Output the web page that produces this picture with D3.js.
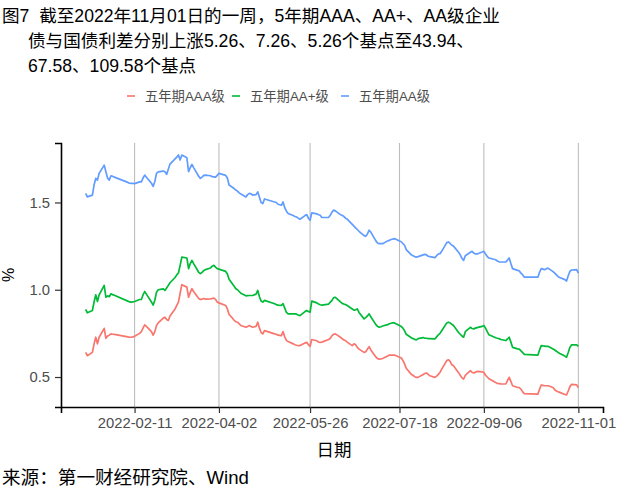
<!DOCTYPE html>
<html><head><meta charset="utf-8">
<script src="https://cdn.jsdelivr.net/npm/d3@7"></script>
<style>
html,body{margin:0;padding:0;background:#fff;}
svg{display:block;font-family:"Liberation Sans","Noto Sans CJK SC",sans-serif;}
text{white-space:pre;}
</style></head>
<body>
<script>
const titleLines = ["图7  截至2022年11月01日的一周，5年期AAA、AA+、AA级企业",
  "债与国债利差分别上涨5.26、7.26、5.26个基点至43.94、",
  "67.58、109.58个基点"];
const seriesNames = ["五年期AAA级", "五年期AA+级", "五年期AA级"];
const seriesColors = ["#F8766D", "#00BA38", "#619CFF"];
const tickDates = ["2022-02-11","2022-04-02","2022-05-26","2022-07-18","2022-09-06","2022-11-01"];
const yTicks = [0.5, 1.0, 1.5];
const sourceText = "来源：第一财经研究院、Wind";

const dates = ["2022-01-13","2022-01-14","2022-01-17","2022-01-18","2022-01-19","2022-01-20","2022-01-21","2022-01-24","2022-01-25","2022-01-26","2022-01-27","2022-01-28","2022-01-29","2022-01-30",
"2022-02-07","2022-02-08","2022-02-09","2022-02-10","2022-02-11","2022-02-14","2022-02-15","2022-02-16","2022-02-17","2022-02-18","2022-02-21","2022-02-22","2022-02-23","2022-02-24","2022-02-25","2022-02-28",
"2022-03-01","2022-03-02","2022-03-03","2022-03-04","2022-03-07","2022-03-08","2022-03-09","2022-03-10","2022-03-11","2022-03-14","2022-03-15","2022-03-16","2022-03-17","2022-03-18","2022-03-21","2022-03-22","2022-03-23","2022-03-24","2022-03-25","2022-03-28","2022-03-29","2022-03-30","2022-03-31",
"2022-04-01","2022-04-02","2022-04-06","2022-04-07","2022-04-08","2022-04-11","2022-04-12","2022-04-13","2022-04-14","2022-04-15","2022-04-18","2022-04-19","2022-04-20","2022-04-21","2022-04-22","2022-04-24","2022-04-25","2022-04-26","2022-04-27","2022-04-28","2022-04-29",
"2022-05-05","2022-05-06","2022-05-07","2022-05-09","2022-05-10","2022-05-11","2022-05-12","2022-05-13","2022-05-16","2022-05-17","2022-05-18","2022-05-19","2022-05-20","2022-05-23","2022-05-24","2022-05-25","2022-05-26","2022-05-27","2022-05-30","2022-05-31",
"2022-06-01","2022-06-02","2022-06-06","2022-06-07","2022-06-08","2022-06-09","2022-06-10","2022-06-13","2022-06-14","2022-06-15","2022-06-16","2022-06-17","2022-06-20","2022-06-21","2022-06-22","2022-06-23","2022-06-24","2022-06-27","2022-06-28","2022-06-29","2022-06-30",
"2022-07-01","2022-07-04","2022-07-05","2022-07-06","2022-07-07","2022-07-08","2022-07-11","2022-07-12","2022-07-13","2022-07-14","2022-07-15","2022-07-18","2022-07-19","2022-07-20","2022-07-21","2022-07-22","2022-07-25","2022-07-26","2022-07-27","2022-07-28","2022-07-29",
"2022-08-01","2022-08-02","2022-08-03","2022-08-04","2022-08-05","2022-08-08","2022-08-09","2022-08-10","2022-08-11","2022-08-12","2022-08-15","2022-08-16","2022-08-17","2022-08-18","2022-08-19","2022-08-22","2022-08-23","2022-08-24","2022-08-25","2022-08-26","2022-08-29","2022-08-30","2022-08-31",
"2022-09-01","2022-09-02","2022-09-05","2022-09-06","2022-09-07","2022-09-08","2022-09-09","2022-09-13","2022-09-14","2022-09-15","2022-09-16","2022-09-19","2022-09-20","2022-09-21","2022-09-22","2022-09-23","2022-09-26","2022-09-27","2022-09-28","2022-09-29","2022-09-30",
"2022-10-08","2022-10-09","2022-10-10","2022-10-11","2022-10-12","2022-10-13","2022-10-14","2022-10-17","2022-10-18","2022-10-19","2022-10-20","2022-10-21","2022-10-24","2022-10-25","2022-10-26","2022-10-27","2022-10-28","2022-10-31","2022-11-01"];

const aa = [1.552,1.532,1.542,1.600,1.638,1.628,1.667,1.714,1.676,1.640,1.628,1.653,1.650,1.645,
1.615,1.610,1.609,1.609,1.608,1.618,1.618,1.640,1.657,1.645,1.610,1.592,1.620,1.667,1.675,1.680,
1.676,1.661,1.690,1.720,1.750,1.760,1.772,1.743,1.772,1.756,1.676,1.700,1.718,1.700,1.650,1.638,1.645,1.655,1.657,1.653,1.648,1.647,1.645,
1.655,1.667,1.655,1.640,1.600,1.580,1.571,1.565,1.555,1.548,1.532,1.545,1.552,1.550,1.542,1.545,1.561,1.530,1.500,1.494,1.520,
1.503,1.500,1.490,1.484,1.503,1.470,1.450,1.437,1.425,1.420,1.417,1.410,1.404,1.425,1.431,1.410,1.398,1.440,1.435,1.430,
1.427,1.414,1.415,1.427,1.445,1.456,1.452,1.430,1.427,1.420,1.410,1.405,1.375,1.365,1.355,1.345,1.335,1.310,1.306,1.320,1.341,
1.330,1.280,1.268,1.264,1.264,1.264,1.280,1.283,1.288,1.290,1.293,1.279,1.275,1.265,1.255,1.230,1.200,1.195,1.190,1.187,1.190,
1.200,1.203,1.200,1.192,1.190,1.184,1.195,1.205,1.207,1.220,1.270,1.274,1.265,1.255,1.250,1.215,1.200,1.180,1.168,1.195,1.215,1.220,1.210,
1.205,1.205,1.216,1.220,1.205,1.190,1.182,1.172,1.165,1.160,1.159,1.159,1.170,1.182,1.150,1.121,1.111,1.108,1.095,1.085,1.072,
1.072,1.100,1.121,1.118,1.115,1.120,1.124,1.104,1.095,1.085,1.075,1.070,1.058,1.050,1.080,1.105,1.113,1.115,1.0958];

const aaPlus = [0.887,0.868,0.881,0.930,0.971,0.933,0.971,1.025,0.957,0.965,0.960,0.977,0.972,0.968,
0.935,0.930,0.929,0.930,0.933,0.944,0.944,0.970,0.990,0.975,0.930,0.912,0.940,0.986,1.000,1.005,
0.996,1.010,1.025,1.040,1.070,1.085,1.096,1.140,1.187,1.182,1.121,1.150,1.168,1.150,1.100,1.092,1.100,1.110,1.115,1.125,1.135,1.140,1.130,
1.121,1.118,1.105,1.090,1.060,1.020,1.006,1.000,0.990,0.980,0.965,0.966,0.967,0.967,0.967,0.975,0.996,0.960,0.935,0.929,0.939,
0.920,0.915,0.912,0.910,0.920,0.895,0.870,0.862,0.862,0.862,0.860,0.855,0.852,0.875,0.881,0.875,0.871,0.935,0.925,0.918,
0.914,0.912,0.918,0.929,0.939,0.955,0.957,0.930,0.922,0.918,0.915,0.910,0.890,0.883,0.885,0.890,0.870,0.833,0.840,0.850,0.862,
0.845,0.800,0.790,0.785,0.788,0.792,0.800,0.805,0.808,0.810,0.810,0.795,0.790,0.780,0.765,0.745,0.725,0.720,0.716,0.713,0.720,
0.726,0.722,0.722,0.720,0.720,0.718,0.730,0.742,0.750,0.765,0.810,0.814,0.810,0.802,0.795,0.755,0.745,0.735,0.728,0.760,0.785,0.778,0.776,
0.780,0.783,0.790,0.795,0.780,0.760,0.742,0.725,0.722,0.720,0.715,0.709,0.718,0.728,0.700,0.670,0.661,0.660,0.650,0.640,0.630,
0.626,0.655,0.680,0.678,0.677,0.676,0.676,0.661,0.655,0.648,0.641,0.635,0.620,0.613,0.640,0.670,0.685,0.684,0.6758];

const aaa = [0.641,0.622,0.641,0.690,0.728,0.690,0.728,0.779,0.722,0.735,0.740,0.747,0.745,0.744,
0.730,0.728,0.728,0.730,0.733,0.750,0.760,0.780,0.799,0.790,0.760,0.740,0.760,0.795,0.810,0.838,
0.843,0.830,0.824,0.850,0.890,0.910,0.929,0.980,1.029,1.015,0.957,0.985,1.006,0.990,0.950,0.944,0.946,0.950,0.946,0.948,0.950,0.952,0.945,
0.929,0.925,0.910,0.890,0.860,0.825,0.817,0.814,0.805,0.795,0.785,0.790,0.795,0.790,0.785,0.790,0.814,0.780,0.755,0.747,0.766,
0.747,0.745,0.740,0.737,0.760,0.730,0.710,0.703,0.690,0.685,0.682,0.680,0.680,0.695,0.699,0.685,0.676,0.715,0.708,0.700,
0.699,0.700,0.715,0.722,0.737,0.745,0.747,0.728,0.720,0.712,0.709,0.700,0.680,0.690,0.685,0.670,0.660,0.641,0.645,0.660,0.674,
0.655,0.615,0.605,0.603,0.604,0.606,0.620,0.626,0.626,0.626,0.626,0.613,0.610,0.595,0.575,0.550,0.515,0.510,0.502,0.498,0.498,
0.515,0.520,0.523,0.515,0.507,0.498,0.505,0.515,0.526,0.545,0.594,0.599,0.590,0.570,0.565,0.525,0.510,0.495,0.488,0.510,0.536,0.527,0.523,
0.528,0.532,0.530,0.526,0.510,0.500,0.490,0.468,0.463,0.462,0.461,0.460,0.480,0.498,0.475,0.450,0.440,0.440,0.430,0.415,0.405,
0.402,0.430,0.454,0.452,0.450,0.450,0.450,0.440,0.427,0.420,0.415,0.412,0.400,0.397,0.420,0.445,0.458,0.455,0.4394];

const W = 640, H = 498;
const parse = d3.timeParse("%Y-%m-%d");
const fmt = d3.timeFormat("%Y-%m-%d");
const dts = dates.map(parse);
const series = [aaa, aaPlus, aa];

const svg = d3.select("body").append("svg").attr("width", W).attr("height", H);

const panel = {left: 61, right: 603, top: 143, bottom: 407};

const xExt = d3.extent(dts);
const xPad = (xExt[1] - xExt[0]) * 0.05;
const x = d3.scaleTime()
  .domain([new Date(+xExt[0] - xPad), new Date(+xExt[1] + xPad)])
  .range([panel.left, panel.right]);

const allV = series.flat();
const yMin = d3.min(allV), yMax = d3.max(allV);
const yPad = (yMax - yMin) * 0.05;
const y = d3.scaleLinear().domain([yMin - yPad, yMax + yPad]).range([panel.bottom, panel.top]);

// Title
const title = svg.append("g").attr("font-size", 17.6).attr("fill", "#000");
titleLines.forEach((t, i) => {
  title.append("text").attr("x", i === 0 ? 2 : 28).attr("y", 22 + i * 25).text(t);
});

// Legend
const legendX = [127, 232, 341];
const leg = svg.append("g");
seriesNames.forEach((n, i) => {
  leg.append("line").attr("x1", legendX[i]).attr("x2", legendX[i] + 8)
    .attr("y1", 96).attr("y2", 96).attr("stroke", seriesColors[i]).attr("stroke-width", 1.6);
  leg.append("text").attr("x", legendX[i] + 18).attr("y", 101)
    .attr("font-size", 13.3).attr("fill", "#4d4d4d").text(n);
});

// vertical grid lines
const tks = tickDates.map(parse);
svg.append("g").selectAll("line").data(tks).join("line")
  .attr("x1", d => x(d)).attr("x2", d => x(d))
  .attr("y1", panel.top).attr("y2", panel.bottom)
  .attr("stroke", "#bdbdbd").attr("stroke-width", 1.1);

// lines
const line = d3.line().x((d, i) => x(dts[i])).y(d => y(d));
series.forEach((s, i) => {
  svg.append("path").datum(s).attr("d", line)
    .attr("fill", "none").attr("stroke", seriesColors[i])
    .attr("stroke-width", 1.7).attr("stroke-linejoin", "round");
});

// axes
const xAxis = d3.axisBottom(x).tickValues(tks).tickFormat(fmt).tickSizeOuter(0).tickSize(6).tickPadding(4);
const gx = svg.append("g").attr("transform", `translate(0,${panel.bottom})`).call(xAxis);
gx.select(".domain").attr("stroke", "#000").attr("stroke-width", 1.6);
gx.selectAll(".tick line").attr("stroke", "#333").attr("stroke-width", 1.2);
gx.selectAll(".tick text").attr("font-size", 14.8).attr("fill", "#4d4d4d")
  .attr("font-family", "Liberation Sans, sans-serif");

const yAxis = d3.axisLeft(y).tickValues(yTicks).tickFormat(d3.format(".1f")).tickSizeOuter(0).tickSize(6).tickPadding(5);
const gy = svg.append("g").attr("transform", `translate(${panel.left},0)`).call(yAxis);
gy.select(".domain").attr("stroke", "#000").attr("stroke-width", 1.6);
gy.selectAll(".tick line").attr("stroke", "#333").attr("stroke-width", 1.2);
gy.selectAll(".tick text").attr("font-size", 14.8).attr("fill", "#4d4d4d")
  .attr("font-family", "Liberation Sans, sans-serif");

// axis titles
svg.append("text").attr("x", (panel.left + panel.right) / 2 + 2).attr("y", 456)
  .attr("text-anchor", "middle").attr("font-size", 17.5).attr("fill", "#000").text("日期");
svg.append("text").attr("transform", `translate(14,${(panel.top + panel.bottom) / 2}) rotate(-90)`)
  .attr("text-anchor", "middle").attr("font-size", 16).attr("fill", "#000").text("%");

// source
svg.append("text").attr("x", 2).attr("y", 484).attr("font-size", 18.6).attr("fill", "#000").text(sourceText);
</script>
</body></html>
